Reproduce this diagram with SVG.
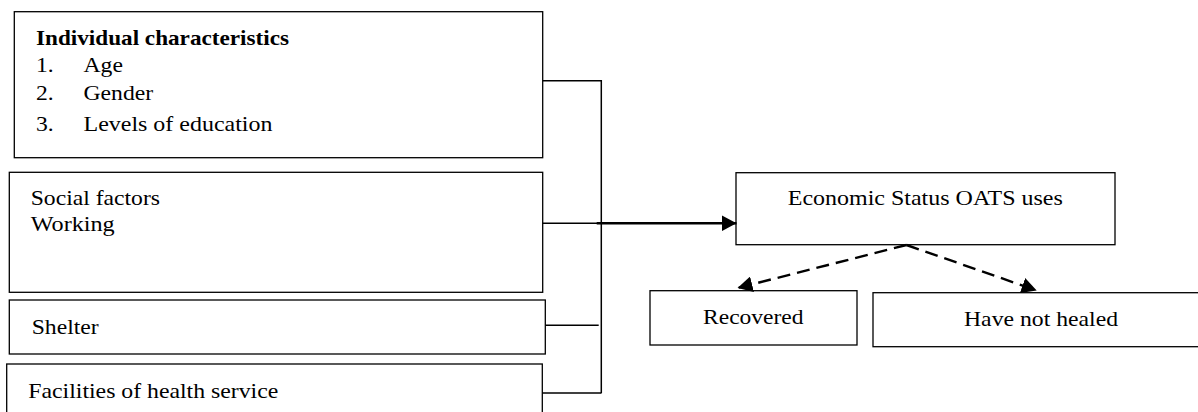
<svg xmlns="http://www.w3.org/2000/svg" width="1198" height="412" viewBox="0 0 1198 412">
  <style>
    .box { fill: #ffffff; stroke: #000000; stroke-width: 1.3; }
    .t { font-family: "Liberation Serif", "Times New Roman", serif; font-size: 22px; fill: #000000; }
    .b { font-weight: bold; }
    .m { text-anchor: middle; }
    .ln { fill: none; stroke: #000000; stroke-width: 1.5; }
    .thick { fill: none; stroke: #000000; stroke-width: 2.6; }
    .dash { fill: none; stroke: #000000; stroke-width: 2.4; stroke-dasharray: 13 7; }
  </style>
  <defs>
    <marker id="ah" viewBox="0 0 15 16" refX="15" refY="8" markerWidth="15" markerHeight="16" markerUnits="userSpaceOnUse" orient="auto">
      <path d="M0,0 L15,8 L0,16 Z" fill="#000000"/>
    </marker>
  </defs>
  <rect width="1198" height="412" fill="#ffffff"/>

  <g id="individual">
    <rect class="box" x="14.3" y="11.7" width="528.4" height="146"/>
    <text class="t b" x="36" y="45" textLength="253" lengthAdjust="spacingAndGlyphs">Individual characteristics</text>
    <text class="t" x="36" y="72" textLength="17.7" lengthAdjust="spacingAndGlyphs">1.</text>
    <text class="t" x="83.5" y="72" textLength="39.4" lengthAdjust="spacingAndGlyphs">Age</text>
    <text class="t" x="36" y="100" textLength="17.7" lengthAdjust="spacingAndGlyphs">2.</text>
    <text class="t" x="83.5" y="100" textLength="69.6" lengthAdjust="spacingAndGlyphs">Gender</text>
    <text class="t" x="36" y="131" textLength="17.7" lengthAdjust="spacingAndGlyphs">3.</text>
    <text class="t" x="83.5" y="131" textLength="189" lengthAdjust="spacingAndGlyphs">Levels of education</text>
  </g>

  <g id="social">
    <rect class="box" x="9.3" y="172.3" width="533.4" height="120"/>
    <text class="t" x="30.7" y="204.5" textLength="129.3" lengthAdjust="spacingAndGlyphs">Social factors</text>
    <text class="t" x="30.7" y="230.5" textLength="84" lengthAdjust="spacingAndGlyphs">Working</text>
  </g>

  <g id="shelter">
    <rect class="box" x="9.3" y="300" width="536" height="54"/>
    <text class="t" x="31.7" y="334" textLength="67" lengthAdjust="spacingAndGlyphs">Shelter</text>
  </g>

  <g id="facilities">
    <rect class="box" x="6.7" y="364" width="535.6" height="60"/>
    <text class="t" x="28.3" y="398" textLength="250" lengthAdjust="spacingAndGlyphs">Facilities of health service</text>
  </g>

  <g id="economic">
    <rect class="box" x="736" y="172.7" width="379" height="72"/>
    <text class="t m" x="925.3" y="205" textLength="275" lengthAdjust="spacingAndGlyphs">Economic Status OATS uses</text>
  </g>

  <g id="recovered">
    <rect class="box" x="650" y="290.7" width="207" height="54.3"/>
    <text class="t m" x="753.3" y="323.5" textLength="100.5" lengthAdjust="spacingAndGlyphs">Recovered</text>
  </g>

  <g id="not-healed">
    <rect class="box" x="873" y="292.7" width="340" height="54"/>
    <text class="t m" x="1041" y="325.7" textLength="154" lengthAdjust="spacingAndGlyphs">Have not healed</text>
  </g>

  <g id="connectors">
    <path class="ln" d="M542.7,80.7 H601.3 V393.3"/>
    <path class="ln" d="M542.7,223.3 H597"/>
    <path class="ln" d="M545.3,325.3 H598.7"/>
    <path class="ln" d="M542.3,393 H601.3"/>
    <path class="thick" d="M596.7,223.3 H736.5" marker-end="url(#ah)"/>
    <path class="dash" d="M906.5,245 L737.5,288" marker-end="url(#ah)"/>
    <path class="dash" d="M906.5,245 L1036.7,290.5" marker-end="url(#ah)"/>
  </g>
</svg>
